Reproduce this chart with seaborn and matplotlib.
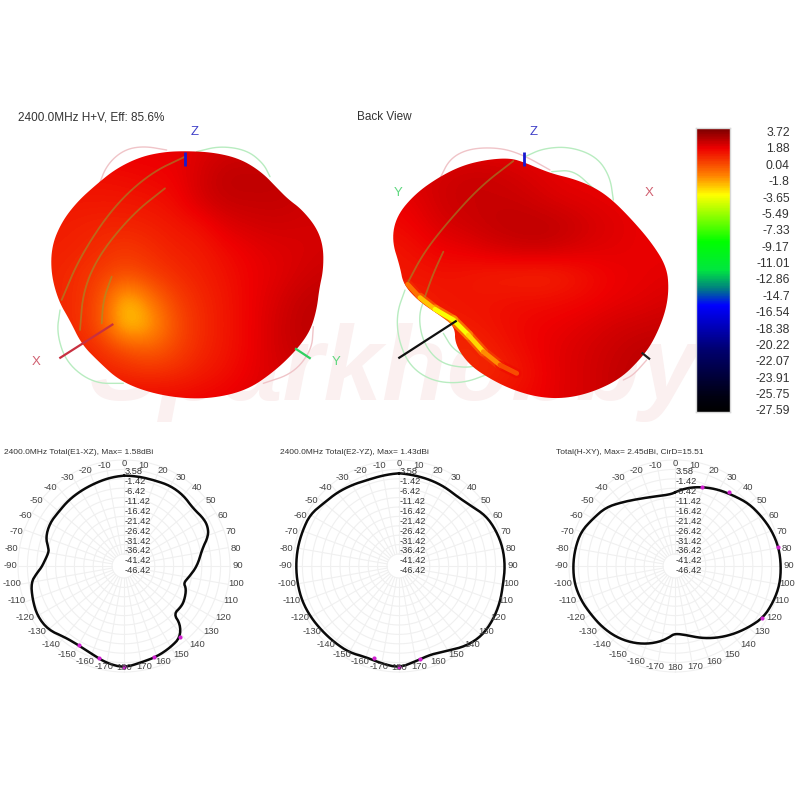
import numpy as np
import pandas as pd
import matplotlib
matplotlib.use("Agg")
import matplotlib.pyplot as plt
import seaborn as sns
from matplotlib.colors import LinearSegmentedColormap
from matplotlib.patches import Polygon
from matplotlib.collections import LineCollection

sns.set_style("white")
plt.rcParams["font.family"] = ["Liberation Sans", "DejaVu Sans"]

# ---------- data ----------
SCALE_LABELS = [3.72, 1.88, 0.04, -1.8, -3.65, -5.49, -7.33, -9.17, -11.01, -12.86,
                -14.7, -16.54, -18.38, -20.22, -22.07, -23.91, -25.75, -27.59]
RING_LABELS = [3.58, -1.42, -6.42, -11.42, -16.42, -21.42, -26.42, -31.42, -36.42, -41.42, -46.42]
ANGLE_TICKS = list(range(-170, 190, 10))

E1_ANG = [0, 10, 20, 30, 40, 50, 60, 65, 70, 78, 90, 100, 106, 110, 120, 125, 134, 136, 142, 150, 160, 170, 180,
          -170, -160, -150, -140, -130, -120, -110, -100, -95, -90, -80, -76, -70, -60, -50, -40, -30, -20, -10, 0]
E1_DB = [-4.75, -4.75, -4.57, -3.69, -3.87, -5.11, -3.51, -3.69, -5.11, -10.6, -14.15, -18.05, -19.82, -17.69,
         -15.92, -15.57, -16.1, -9.89, -4.57, -3.16, -1.74, -0.85, 1.1,
         -0.5, -3.16, -4.4, -3.69, -0.32, 0.21, -1.2, -2.8, -6.17, -9.54, -12.2, -11.31, -8.65, -7.41, -7.77,
         -7.23, -6.88, -6.35, -5.46, -4.75]
E1_MARK_ANG = [142, 162, 180, -165, -150]
E1_MARK_DB = [-4.57, -1.74, 1.1, -2.27, -4.4]

E2_ANG = [0, 10, 20, 30, 40, 50, 60, 70, 80, 90, 100, 110, 120, 130, 140, 150, 160, 170, 180,
          -170, -160, -150, -140, -130, -120, -110, -100, -90, -80, -70, -60, -50, -40, -30, -20, -10, 0]
E2_DB = [-3.51, -4.04, -4.22, -4.4, -4.75, -3.16, 0.39, 1.99, 3.05, 3.4, 3.23, 4.11, 4.65, 4.65, 2.52, -1.03,
         -2.98, -1.56, 1.1, -0.32, -1.38, 0.04, 0.21, 0.57, 1.28, 1.81, 1.81, 1.81, 1.81, 1.63, 1.63, -0.85,
         -1.91, -3.16, -4.22, -4.04, -3.51]
E2_MARK_ANG = [167, 180, -165]
E2_MARK_DB = [-2.27, 1.1, -1.91]

H_ANG = [0, 10, 20, 30, 40, 50, 60, 70, 80, 90, 100, 110, 120, 130, 140, 150, 160, 170, 180,
         -175, -170, -160, -150, -140, -130, -120, -110, -100, -90, -80, -70, -60, -50, -40, -30, -20, -10, -3, 0]
H_DB = [-13.62, -10.6, -8.3, -6.17, -4.22, -1.56, 0.04, 1.81, 3.05, 3.4, 3.58, 2.69, 1.45, -2.09, -5.46, -8.83,
        -12.2, -15.57, -16.99, -14.68, -12.38, -8.83, -6.0, -3.87, -2.45, -1.38, 0.21, 1.28, 1.28, 0.92, 0.21,
        -2.62, -4.75, -8.83, -12.02, -13.97, -14.86, -14.5, -13.62]
H_MARK_ANG = [18.7, 36, 79.8, 121]
H_MARK_DB = [-8.65, -4.22, 3.05, 1.2]

# 3D views, traced in crop units (3 units per pixel)
FRONT_OUTLINE = [(555, 153), (640, 157), (720, 176), (785, 216), (835, 268), (865, 298), (905, 328), (950, 383),
                 (970, 440), (970, 510), (958, 565), (950, 630), (930, 695), (885, 755), (822, 815), (742, 870),
                 (640, 895), (540, 895), (438, 875), (356, 840), (296, 785), (245, 733), (210, 662), (175, 602),
                 (153, 520), (155, 438), (185, 366), (231, 306), (287, 255), (348, 206), (420, 171), (490, 156)]
BACK_OUTLINE = [(555, 188), (590, 203), (640, 222), (702, 237), (763, 262), (814, 297), (874, 357), (935, 428),
                (980, 500), (987, 570), (975, 642), (940, 724), (904, 774), (843, 835), (762, 875), (680, 895),
                (600, 893), (518, 870), (447, 835), (386, 793), (345, 733), (345, 680), (298, 645), (237, 604),
                (190, 553), (180, 500), (155, 420), (170, 347), (226, 281), (297, 231), (368, 196), (440, 179),
                (510, 174)]
FRONT_FIELD = [
    [1.6, 1.6, 1.6, 1.6, 1.6, 1.6, 1.8, 2.0, 2.0, 2.0, 2.0, 2.0],
    [1.2, 1.2, 1.2, 1.3, 1.4, 1.5, 2.0, 2.4, 2.4, 2.4, 2.2, 2.0],
    [1.0, 1.0, 1.0, 1.0, 1.1, 1.3, 2.0, 2.3, 2.3, 2.3, 2.2, 2.0],
    [0.9, 0.8, 0.7, 0.7, 0.8, 1.0, 1.2, 1.8, 2.0, 2.1, 2.0, 2.0],
    [0.8, 0.7, 0.5, 0.2, 0.5, 0.8, 0.9, 1.3, 1.6, 1.8, 1.9, 2.0],
    [0.7, 0.5, 0.1, -0.3, 0.1, 0.5, 0.8, 1.1, 1.5, 1.7, 2.0, 2.2],
    [0.7, 0.5, -0.2, -2.8, -1.2, 0.0, 0.6, 1.0, 1.5, 1.9, 2.3, 2.4],
    [0.7, 0.5, -0.3, -3.0, -2.2, -0.3, 0.5, 1.0, 1.5, 2.0, 2.4, 2.4],
    [0.8, 0.8, 0.4, -0.2, -0.7, -0.1, 0.6, 1.0, 1.5, 2.0, 2.3, 2.3],
    [1.2, 1.0, 0.8, 0.6, 0.5, 0.6, 0.9, 1.2, 1.6, 1.9, 2.0, 2.0],
    [1.4, 1.4, 1.4, 1.4, 1.4, 1.4, 1.5, 1.6, 1.8, 1.9, 2.0, 2.0],
]
BACK_FIELD = [
    [1.6, 1.6, 1.6, 1.6, 1.6, 1.6, 1.6, 1.6, 1.6, 1.6, 1.6, 1.6],
    [1.8, 1.9, 2.0, 2.2, 2.2, 2.0, 1.8, 1.6, 1.6, 1.6, 1.6, 1.6],
    [1.5, 1.7, 2.1, 2.2, 2.2, 2.2, 2.0, 1.8, 1.7, 1.6, 1.6, 1.6],
    [1.3, 1.5, 1.9, 2.1, 2.3, 2.4, 2.4, 2.3, 2.0, 1.8, 1.6, 1.6],
    [1.0, 1.2, 1.5, 1.6, 1.9, 2.1, 2.2, 2.0, 1.8, 1.7, 1.6, 1.6],
    [1.0, 1.0, 1.1, 1.0, 0.8, 0.7, 0.6, 0.8, 1.2, 1.5, 1.6, 1.7],
    [1.0, 0.8, 1.0, 1.1, 1.1, 1.2, 1.2, 1.3, 1.4, 1.6, 1.7, 1.9],
    [0.8, 0.8, 0.8, 0.9, 1.1, 1.3, 1.5, 1.6, 1.8, 2.0, 2.1, 2.2],
    [0.8, 0.8, 0.8, 0.5, 0.8, 1.2, 1.5, 1.8, 2.0, 2.2, 2.4, 2.4],
    [0.8, 0.8, 0.8, 0.6, 0.6, 0.9, 1.4, 1.8, 2.0, 2.3, 2.4, 2.4],
    [1.2, 1.2, 1.2, 1.2, 1.2, 1.3, 1.5, 1.8, 2.0, 2.3, 2.4, 2.4],
]
BACK_EDGE = [(203, 553), (240, 593), (285, 628), (340, 660), (385, 705), (430, 755), (480, 795), (530, 820)]
BACK_EDGE_DB = [-0.5, -1.8, -3.4, -4.0, -3.6, -2.4, -1.0, 0.4]

FRONT_PINK = [[(500, 150), (430, 138), (370, 150), (320, 195), (295, 260)],
              [(940, 680), (935, 750), (880, 820), (790, 850)]]
FRONT_GREEN = [[(590, 155), (660, 138), (740, 150), (790, 190), (810, 230)],
               [(180, 630), (170, 700), (200, 790), (280, 850), (370, 850)]]
FRONT_OLIVE = [[(555, 170), (450, 220), (340, 320), (240, 470), (185, 600)],
               [(495, 265), (400, 340), (300, 460), (250, 570), (240, 690)],
               [(335, 530), (310, 600), (305, 670)]]
BACK_PINK = [[(630, 210), (550, 165), (480, 143), (390, 145), (330, 175), (300, 235)],
             [(920, 780), (880, 825), (850, 840)]]
BACK_GREEN = [[(555, 170), (610, 145), (690, 140), (770, 170), (810, 230), (820, 300)],
              [(635, 215), (700, 210), (760, 265)],
              [(195, 570), (170, 640), (175, 720), (210, 800), (280, 845), (370, 850), (450, 820)],
              [(255, 590), (235, 650), (250, 730), (300, 790), (380, 805), (430, 790)],
              [(310, 700), (340, 750), (400, 780)]]
BACK_OLIVE = [[(520, 183), (420, 260), (320, 370), (250, 460), (205, 545)],
              [(310, 455), (280, 520), (255, 590)]]

# ---------- scales ----------
STOPS = [(0.0, "#7a0000"), (0.07, "#ee0000"), (0.165, "#ff8000"), (0.235, "#ffff00"), (0.40, "#00ff00"),
         (0.50, "#00e640"), (0.565, "#008080"), (0.625, "#0000ff"), (0.78, "#000070"), (0.95, "#000010"),
         (1.0, "#000000")]
cmap = LinearSegmentedColormap.from_list("gain", [(1 - p, c) for p, c in STOPS[::-1]], N=512)
VMIN, VMAX = -27.59, 3.72

fig = plt.figure(figsize=(8, 8), dpi=100)
fig.patch.set_facecolor("white")
px = fig.add_axes([0, 0, 1, 1], zorder=1)
px.set_axis_off()
px.set_xlim(0, 800)
px.set_ylim(800, 0)


def smooth(pts, n=3):
    p = np.asarray(pts, float)
    for _ in range(n):
        q = np.roll(p, -1, axis=0)
        p = np.column_stack([0.75 * p + 0.25 * q, 0.25 * p + 0.75 * q]).reshape(-1, 2)
    return p


def open_smooth(pts, n=3):
    p = np.asarray(pts, float)
    for _ in range(n):
        a, b = p[:-1], p[1:]
        mid = np.column_stack([0.75 * a + 0.25 * b, 0.25 * a + 0.75 * b]).reshape(-1, 2)
        p = np.vstack([p[0], mid, p[-1]])
    return p


def view(pts, x0):
    p = np.asarray(pts, float)
    return np.column_stack([x0 + p[:, 0] / 3, 100 + p[:, 1] / 3])


px.text(395, 400, "Sparkhobby", fontsize=76, fontstyle="italic", fontweight="bold",
        color="#fbf0f0", ha="center", va="baseline", zorder=0)


def draw_view(outline, field, x0, pink, green, olive):
    for tr, col, lw in ((pink, "#f0c4c8", 1.0), (green, "#b8ecc0", 1.0)):
        for t in tr:
            p = open_smooth(view(t, x0))
            px.plot(p[:, 0], p[:, 1], color=col, lw=lw, zorder=1)
    shape = smooth(view(outline, x0))
    patch = Polygon(shape, closed=True, fc="none", ec="none", transform=px.transData, zorder=2)
    px.add_patch(patch)
    extent = (x0 + 37.5, x0 + 337.5, 412.5, 137.5)
    im = px.imshow(np.array(field), cmap=cmap, vmin=VMIN, vmax=VMAX, extent=extent, aspect="auto",
                   interpolation="bicubic", zorder=2)
    im.set_clip_path(patch)
    px.set_xlim(0, 800)
    px.set_ylim(800, 0)
    for t in olive:
        p = open_smooth(view(t, x0))
        px.plot(p[:, 0], p[:, 1], color="#90a030", lw=1.3, alpha=0.55, zorder=4)
    return patch


front = draw_view(FRONT_OUTLINE, FRONT_FIELD, 0, FRONT_PINK, FRONT_GREEN, FRONT_OLIVE)
back = draw_view(BACK_OUTLINE, BACK_FIELD, 340, BACK_PINK, BACK_GREEN, BACK_OLIVE)

edge = view(BACK_EDGE, 340)
segs = np.stack([edge[:-1], edge[1:]], axis=1)
vals = (np.array(BACK_EDGE_DB[:-1]) + np.array(BACK_EDGE_DB[1:])) / 2
for w, off, a in ((7, 1.6, 0.6), (3.5, 0.0, 1.0)):
    lc = LineCollection(segs, array=vals + off, cmap=cmap, norm=plt.Normalize(VMIN, VMAX),
                        linewidths=w, alpha=a, zorder=3, capstyle="round")
    px.add_collection(lc)
    lc.set_clip_path(back)


def seg(pts, x0, color, lw=1.6, z=5):
    p = view(pts, x0)
    px.plot(p[:, 0], p[:, 1], color=color, lw=lw, zorder=z, solid_capstyle="butt")


def lab(pt, x0, s, color):
    p = view([pt], x0)[0]
    px.text(p[0], p[1], s, color=color, fontsize=9.5, ha="center", va="center", zorder=6)


seg([(555, 155), (555, 197)], 0, "#1818d0", 2)
seg([(340, 672), (178, 775)], 0, "#c83040")
seg([(885, 745), (932, 776)], 0, "#30d060")
lab((585, 95), 0, "Z", "#4040c8")
lab((107, 787), 0, "X", "#d06070")
lab((1008, 787), 0, "Y", "#60d880")
seg([(552, 155), (552, 197)], 340, "#1818d0", 2)
seg([(350, 662), (175, 775)], 340, "#101010")
seg([(905, 758), (930, 778)], 340, "#202020")
lab((582, 95), 340, "Z", "#4040c8")
lab((175, 280), 340, "Y", "#60d880")
lab((927, 280), 340, "X", "#d06070")

px.text(18, 117, "2400.0MHz H+V, Eff: 85.6%", fontsize=8.5, color="#333333", va="center")
px.text(357, 117, "Back View", fontsize=8.5, color="#333333", va="center")

# ---------- colour bar ----------
cb = fig.add_axes([696 / 800, 1 - 412 / 800, 34 / 800, 284 / 800], zorder=2)
ramp = np.linspace(VMAX, VMIN, 400)
sns.heatmap(pd.DataFrame(ramp[:, None]), ax=cb, cmap=cmap, vmin=VMIN, vmax=VMAX, cbar=False,
            xticklabels=False, yticklabels=False)
cb.yaxis.tick_right()
cb.set_yticks([(VMAX - v) / (VMAX - VMIN) * 392 + 5 for v in SCALE_LABELS])
cb.set_yticklabels([f"{v:g}" for v in SCALE_LABELS], rotation=0, fontsize=8.7, color="#333333", ha="right")
cb.tick_params(axis="y", length=0, pad=43)
for s in cb.spines.values():
    s.set_visible(True)
    s.set_color("#d8d8d8")
    s.set_linewidth(1.0)

# ---------- polar patterns ----------
R_OUT, R_IN = 106.0, 12.0
PX_PER_DB = (R_OUT - R_IN) / 50.0
R_TOP = 4.8
R_BOTTOM = RING_LABELS[0] - R_OUT / PX_PER_DB
R_AX = (R_TOP - R_BOTTOM) * PX_PER_DB
CY = 566


def pattern(cx, ang, db, mang, mdb, title, tx):
    ax = fig.add_axes([(cx - R_AX) / 800, 1 - (CY + R_AX) / 800, 2 * R_AX / 800, 2 * R_AX / 800],
                      projection="polar", zorder=2)
    ax.patch.set_alpha(0)
    ax.set_theta_zero_location("N")
    ax.set_theta_direction(-1)
    ax.set_ylim(R_BOTTOM, R_TOP)
    ax.set_xticks([])
    ax.set_yticks([])
    ax.grid(False)
    ax.spines["polar"].set_visible(False)
    th = np.linspace(0, 2 * np.pi, 361)
    for v in RING_LABELS:
        ax.plot(th, np.full_like(th, v), color="#f0f0f0", lw=0.8, zorder=1)
    for a in ANGLE_TICKS:
        ax.plot([np.radians(a)] * 2, [RING_LABELS[-1], RING_LABELS[0]], color="#f0f0f0", lw=0.8, zorder=1)
    # rounded stroke through the read values
    trace = np.column_stack([np.unwrap(np.radians(ang)), db])
    trace = open_smooth(trace, 2)
    sns.lineplot(x=trace[:, 0], y=trace[:, 1], sort=False, estimator=None, color="#0a0a0a", lw=1.8, ax=ax, zorder=3)
    ax.lines[-1].set_solid_joinstyle("round")
    ax.lines[-1].set_clip_on(False)
    sns.scatterplot(x=np.radians(mang), y=mdb, color="#d020d0", s=9, linewidth=0, ax=ax, zorder=4)
    ax.set_xlabel("")
    ax.set_ylabel("")
    ax.set_ylim(R_BOTTOM, R_TOP)
    for i, v in enumerate(RING_LABELS):
        px_y = 471.7 + 9.9 * i
        fig.text((cx + 1) / 800, 1 - px_y / 800, f"{v:g}", fontsize=6.7, color="#333333",
                 ha="left", va="center", zorder=5)
    for a in ANGLE_TICKS:
        t = np.radians(a)
        x = cx + 114 * np.sin(t)
        y = CY - 102 * np.cos(t)
        fig.text(x / 800, 1 - y / 800, f"{a}", fontsize=6.8, color="#444444", ha="center", va="center", zorder=5)
    fig.text(tx / 800, 1 - 452.5 / 800, title, fontsize=6.05, color="#333333", ha="left", va="center")


pattern(124, E1_ANG, E1_DB, E1_MARK_ANG, E1_MARK_DB, "2400.0MHz Total(E1-XZ), Max= 1.58dBi", 4)
pattern(399, E2_ANG, E2_DB, E2_MARK_ANG, E2_MARK_DB, "2400.0MHz Total(E2-YZ), Max= 1.43dBi", 280)
pattern(675, H_ANG, H_DB, H_MARK_ANG, H_MARK_DB, "Total(H-XY), Max= 2.45dBi, CirD=15.51", 556)

fig.savefig("out.png", dpi=100, facecolor="white")
